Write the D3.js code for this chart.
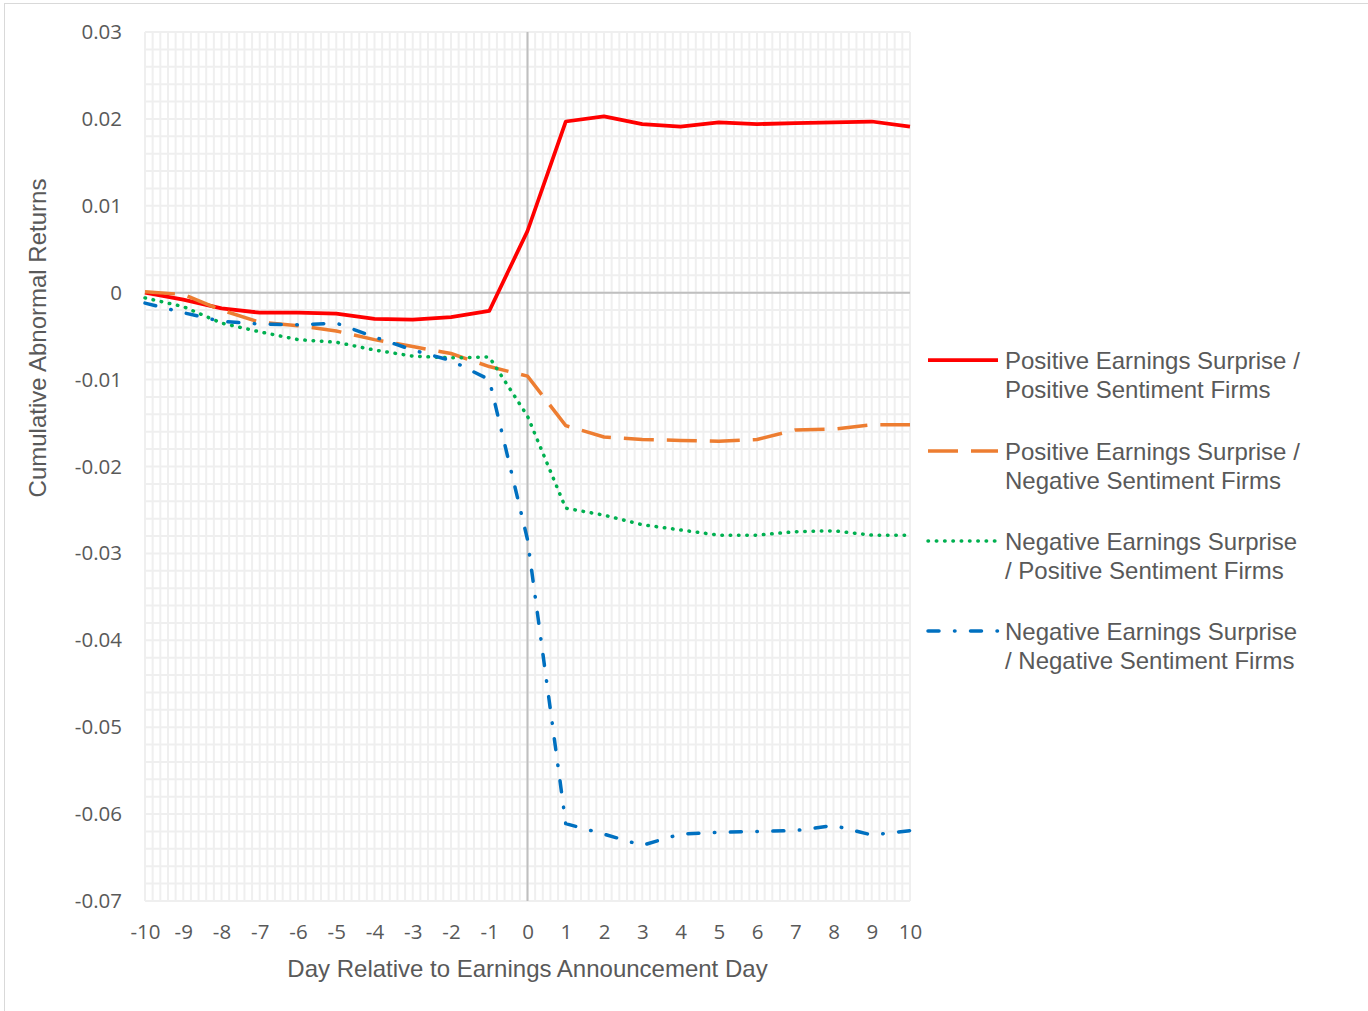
<!DOCTYPE html>
<html><head><meta charset="utf-8">
<script src="https://cdn.jsdelivr.net/npm/d3@7"></script>
<style>body{margin:0;background:#fff}svg{display:block}</style>
</head><body>
<script>
const days = [-10,-9,-8,-7,-6,-5,-4,-3,-2,-1,0,1,2,3,4,5,6,7,8,9,10];
const posPos = [0.0000,-0.0008,-0.0018,-0.0023,-0.0023,-0.0024,-0.0030,-0.0031,-0.0028,-0.0021,0.0071,0.0197,0.0203,0.0194,0.0191,0.0196,0.0194,0.0195,0.0196,0.0197,0.0191];
const posNeg = [0.0001,-0.0002,-0.0020,-0.0034,-0.0038,-0.0044,-0.0054,-0.0062,-0.0070,-0.0085,-0.0096,-0.0153,-0.0166,-0.0169,-0.0170,-0.0171,-0.0169,-0.0158,-0.0157,-0.0152,-0.0152];
const negPos = [-0.0006,-0.0016,-0.0035,-0.0045,-0.0054,-0.0057,-0.0066,-0.0073,-0.0075,-0.0074,-0.0142,-0.0248,-0.0256,-0.0267,-0.0273,-0.0279,-0.0279,-0.0275,-0.0274,-0.0279,-0.0279];
const negNeg = [-0.0012,-0.0023,-0.0033,-0.0036,-0.0037,-0.0035,-0.0051,-0.0066,-0.0078,-0.0100,-0.0284,-0.0611,-0.0623,-0.0636,-0.0623,-0.0621,-0.0620,-0.0619,-0.0613,-0.0624,-0.0619];
const yTicks = [0.03,0.02,0.01,0,-0.01,-0.02,-0.03,-0.04,-0.05,-0.06,-0.07];
const yTickLabels = ["0.03","0.02","0.01","0","-0.01","-0.02","-0.03","-0.04","-0.05","-0.06","-0.07"];
const seriesNames = [["Positive Earnings Surprise /","Positive Sentiment Firms"],["Positive Earnings Surprise /","Negative Sentiment Firms"],["Negative Earnings Surprise","/ Positive Sentiment Firms"],["Negative Earnings Surprise","/ Negative Sentiment Firms"]];
const xTitle = "Day Relative to Earnings Announcement Day";
const yTitle = "Cumulative Abnormal Returns";

const styles = [
  {color:"#FF0000", dash:null, cap:"butt", w:3.75},
  {color:"#ED7D31", dash:"30,13", cap:"butt", w:3.5},
  {color:"#00B050", dash:"0.5,7.8", cap:"round", w:3.5},
  {color:"#0070C0", dash:"11,15.5,0.5,15.5", cap:"round", w:3.5}
];
const seriesData = [posPos,posNeg,negPos,negNeg];

const W=1368,H=1011;
const svg=d3.select("body").append("svg").attr("width",W).attr("height",H);
svg.append("rect").attr("x",4.5).attr("y",3.5).attr("width",1400).attr("height",1100).attr("fill","#fff").attr("stroke","#d9d9d9").attr("stroke-width",1);

const x=d3.scaleLinear().domain([-10,10]).range([145,910]);
const y=d3.scaleLinear().domain([-0.07,0.03]).range([901,32]);

const grid=svg.append("g");
d3.range(0,101).forEach(i=>{
  const v=-10+i*0.2;
  grid.append("line").attr("x1",x(v)).attr("x2",x(v)).attr("y1",y(0.03)).attr("y2",y(-0.07)).attr("stroke","#efefef").attr("stroke-width",2);
});
d3.range(0,51).forEach(i=>{
  const v=-0.07+i*0.002;
  grid.append("line").attr("x1",x(-10)).attr("x2",x(10)).attr("y1",y(v)).attr("y2",y(v)).attr("stroke","#efefef").attr("stroke-width",2);
});
svg.append("line").attr("x1",x(-10)).attr("x2",x(10)).attr("y1",y(0)).attr("y2",y(0)).attr("stroke","#bfbfbf").attr("stroke-width",2);
svg.append("line").attr("x1",x(0)).attr("x2",x(0)).attr("y1",y(0.03)).attr("y2",y(-0.07)).attr("stroke","#bfbfbf").attr("stroke-width",2);

const yAxis=d3.axisLeft(y).tickValues(yTicks).tickFormat((d,i)=>yTickLabels[i]).tickSize(0).tickPadding(0);
const ya=svg.append("g").attr("transform","translate(122,0)").call(yAxis);
ya.select(".domain").remove();
ya.selectAll("text").attr("font-family","'Open Sans', sans-serif").attr("font-size","20.5px").attr("fill","#595959");

const xAxis=d3.axisBottom(x).tickValues(days).tickFormat(d=>String(d)).tickSize(0).tickPadding(0);
const xa=svg.append("g").attr("transform","translate(0,924)").call(xAxis);
xa.select(".domain").remove();
xa.selectAll("text").attr("font-family","'Open Sans', sans-serif").attr("font-size","20.5px").attr("fill","#595959");

svg.append("text").attr("x",527.5).attr("y",977).attr("text-anchor","middle").attr("font-family","'Liberation Sans', Arial, sans-serif").attr("font-size","24px").attr("fill","#595959").text(xTitle);
svg.append("text").attr("transform","translate(46,338) rotate(-90)").attr("text-anchor","middle").attr("font-family","'Liberation Sans', Arial, sans-serif").attr("font-size","24px").attr("fill","#595959").text(yTitle);

const line=d3.line().x((d,i)=>x(days[i])).y(d=>y(d));
seriesData.forEach((s,k)=>{
  const p=svg.append("path").datum(s).attr("d",line).attr("fill","none").attr("stroke",styles[k].color).attr("stroke-width",styles[k].w).attr("stroke-linejoin","round").attr("stroke-linecap",styles[k].cap);
  if(styles[k].dash) p.attr("stroke-dasharray",styles[k].dash);
});

const legY=[360,451,541,631];
seriesNames.forEach((nm,k)=>{
  const l=svg.append("line").attr("x1",928).attr("x2",998).attr("y1",legY[k]).attr("y2",legY[k]).attr("stroke",styles[k].color).attr("stroke-width",styles[k].w).attr("stroke-linecap",styles[k].cap);
  if(styles[k].dash) l.attr("stroke-dasharray",styles[k].dash);
  const t=svg.append("text").attr("font-family","'Liberation Sans', Arial, sans-serif").attr("font-size","24px").attr("fill","#595959");
  t.append("tspan").attr("x",1005).attr("y",legY[k]+9).text(nm[0]);
  t.append("tspan").attr("x",1005).attr("y",legY[k]+38).text(nm[1]);
});
</script>
</body></html>
